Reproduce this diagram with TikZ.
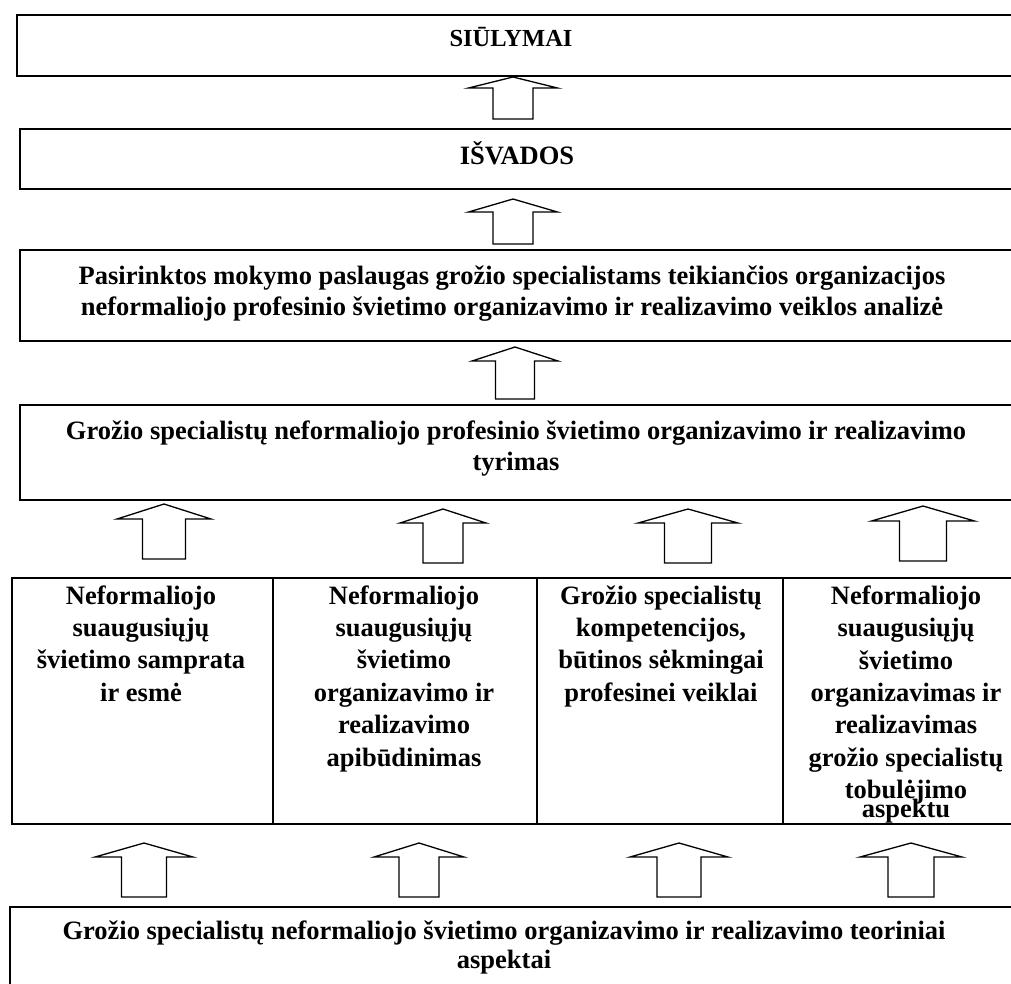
\documentclass[tikz,border=0pt]{standalone}
\usepackage{fontspec}
\setmainfont{Liberation Serif}
\begin{document}
\begin{tikzpicture}[x=1pt,y=-1pt,
  frame/.style={draw=black, line width=1.8pt, inner sep=0pt, anchor=north west},
  cell/.style={frame, line width=1.6pt, minimum height=246pt},
  caption/.style={font=\fontsize{26.5}{31}\selectfont\bfseries, align=center,
                  inner sep=0pt, anchor=base},
  column/.style={caption, font=\fontsize{26.5}{32.4}\selectfont\bfseries},
  blockarrow/.style={draw=black, line width=1.3pt, fill=white, line join=miter}]

% upward block arrow: centre x, tip y, shoulder y, bottom y, wing half-width, stem half-width
\newcommand{\blockup}[6]{%
  \draw[blockarrow] (#1,#2) -- (#1+#5,#3) -- (#1+#6,#3) -- (#1+#6,#4)
    -- (#1-#6,#4) -- (#1-#6,#3) -- (#1-#5,#3) -- cycle;}

\useasboundingbox (0,0) rectangle (1011,983);
\clip (0,0) rectangle (1011,983);
\fill[white] (0,0) rectangle (1011,983);

% stacked boxes
\node[frame, minimum width=1030pt, minimum height=61pt] (b1) at (16,14) {};
\node[frame, minimum width=1030pt, minimum height=60pt] (b2) at (19,128) {};
\node[frame, minimum width=1030pt, minimum height=91pt] (b3) at (19,249) {};
\node[frame, minimum width=1030pt, minimum height=95pt] (b4) at (19,404) {};
\node[cell, minimum width=261pt] (c1) at (11,577) {};
\node[cell, minimum width=264pt] (c2) at (272,577) {};
\node[cell, minimum width=246pt] (c3) at (536,577) {};
\node[cell, minimum width=260pt] (c4) at (782,577) {};
\node[frame, minimum width=1040pt, minimum height=120pt] (b6) at (9,906) {};

% texts (anchored at the baseline of their last line)
\node[caption, font=\fontsize{24.5}{29}\selectfont\bfseries] (t1) at (511,46) {SIŪLYMAI};
\node[caption] (t2) at (517,164) {IŠVADOS};
\node[caption] (t3) at (512,315) {Pasirinktos mokymo paslaugas grožio specialistams teikiančios organizacijos\\
  neformaliojo profesinio švietimo organizavimo ir realizavimo veiklos analizė};
\node[caption] (t4) at (516,470) {Grožio specialistų neformaliojo profesinio švietimo organizavimo ir realizavimo\\
  tyrimas};
\node[column] (tc1) at (141,701.2) {Neformaliojo\\ suaugusiųjų\\ švietimo samprata\\ ir esmė};
\node[column] (tc2) at (404,766) {Neformaliojo\\ suaugusiųjų\\ švietimo\\ organizavimo ir\\ realizavimo\\ apibūdinimas};
\node[column] (tc3) at (661,701.2) {Grožio specialistų\\ kompetencijos,\\ būtinos sėkmingai\\ profesinei veiklai};
\node[column] (tc4) at (906,817) {Neformaliojo\\ suaugusiųjų\\ švietimo\\ organizavimas ir\\ realizavimas\\ grožio specialistų\\ tobulėjimo\\[-14pt] aspektu};
\node[caption, font=\fontsize{26.5}{29}\selectfont\bfseries] (t6) at (504,968) {Grožio specialistų neformaliojo švietimo organizavimo ir realizavimo teoriniai\\ aspektai};

% arrows between the levels
\blockup{513}{77}{88}{119}{44.5}{20}
\blockup{513}{199}{212}{244}{44.5}{20}
\blockup{515}{347}{361}{399}{43}{19.5}

\blockup{164}{504}{519}{559}{47}{21.5}
\blockup{443}{509}{523}{563}{43}{20}
\blockup{688}{509}{523}{563}{50}{23.5}
\blockup{923}{506}{521}{561}{51.5}{23.5}

\blockup{144}{843}{857}{897}{49}{22.5}
\blockup{419}{843}{857}{897}{45}{20}
\blockup{679}{843}{857}{897}{49}{22}
\blockup{911}{843}{857}{897}{51}{23}
\end{tikzpicture}
\end{document}
